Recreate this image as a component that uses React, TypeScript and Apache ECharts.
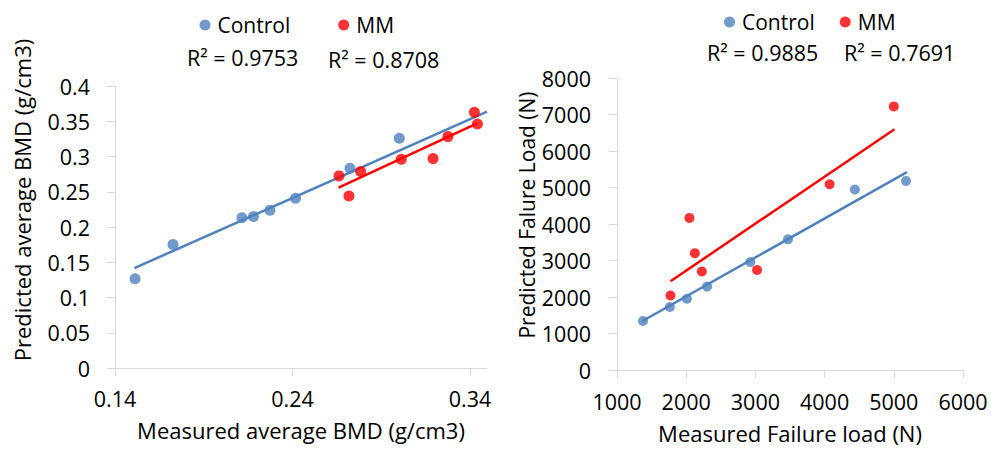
import React, { useEffect, useRef } from "react";
import * as echarts from "echarts";

// ---- Left chart: average BMD ----
const bmdControlMeasured = [0.1513, 0.1727, 0.2115, 0.218, 0.2273, 0.2417, 0.2724, 0.3002];
const bmdControlPredicted = [0.1265, 0.1751, 0.213, 0.2148, 0.2239, 0.2409, 0.2834, 0.3259];
const bmdMMMeasured = [0.2662, 0.2718, 0.2784, 0.3013, 0.3192, 0.3276, 0.3425, 0.3442];
const bmdMMPredicted = [0.2725, 0.2441, 0.2786, 0.2961, 0.297, 0.3282, 0.3627, 0.3462];
const bmdControlTrend = [[0.1509, 0.1417], [0.3496, 0.3636]];
const bmdMMTrend = [[0.266, 0.2559], [0.344, 0.3471]];
const bmdXTicks = [0.14, 0.24, 0.34];
const bmdR2 = ["R² = 0.9753", "R² = 0.8708"];
const bmdXTitle = "Measured average BMD (g/cm3)";
const bmdYTitle = "Predicted average BMD (g/cm3)";

// ---- Right chart: failure load ----
const loadControlMeasured = [1375, 1764, 2010, 2302, 2927, 3471, 4437, 5177];
const loadControlPredicted = [1345, 1725, 1953, 2286, 2956, 3580, 4944, 5180];
const loadMMMeasured = [1773, 2047, 2125, 2226, 3024, 4072, 5000];
const loadMMPredicted = [2042, 4166, 3200, 2701, 2739, 5088, 7222];
const loadControlTrend = [[1375, 1350], [5190, 5420]];
const loadMMTrend = [[1773, 2430], [5010, 6598]];
const loadR2 = ["R² = 0.9885", "R² = 0.7691"];
const loadXTitle = "Measured Failure load (N)";
const loadYTitle = "Predicted Falure Load (N)";

const seriesNames = ["Control", "MM"];
const BLUE = "#4F81BD";
const RED = "#FF0000";
const FONT = "Open Sans";
const AXIS_GRAY = "#D9D9D9";

const zip = (xs: number[], ys: number[]) => xs.map((x, i) => [x, ys[i]]);
const plain = (v: number) => String(v);

export default function App() {
  const ref = useRef<HTMLDivElement>(null);
  useEffect(() => {
    if (!ref.current) return;
    const chart = echarts.init(ref.current, undefined, { renderer: "svg" });
    const axisCommon = {
      axisLine: { show: true, lineStyle: { color: AXIS_GRAY, width: 1 } },
      axisTick: { show: true, length: 8, lineStyle: { color: AXIS_GRAY } },
      splitLine: { show: false },
      nameTextStyle: { fontFamily: FONT, fontSize: 22, color: "#000" },
    };
    const labelStyle = { fontFamily: FONT, fontSize: 21.5, color: "#000", formatter: plain };
    const textStyle = { fontFamily: FONT, fontSize: 21.5, fill: "#000" };
    const legendCommon = {
      data: seriesNames,
      icon: "circle",
      itemWidth: 15,
      itemHeight: 11,
      padding: 0,
      symbolKeepAspect: true,
      textStyle: { fontFamily: FONT, fontSize: 21, color: "#000" },
    };
    chart.setOption({
      animation: false,
      backgroundColor: "#fff",
      grid: [
        { left: 115, top: 86, right: 504, bottom: 81 },
        { left: 617, top: 78, right: 28, bottom: 76 },
      ],
      xAxis: [
        {
          ...axisCommon,
          gridIndex: 0,
          type: "value",
          min: 0.14,
          max: 0.3496,
          name: bmdXTitle,
          nameLocation: "middle",
          nameGap: 51,
          axisTick: { ...axisCommon.axisTick, customValues: bmdXTicks },
          axisLabel: { ...labelStyle, margin: 19, customValues: bmdXTicks },
        },
        {
          ...axisCommon,
          gridIndex: 1,
          type: "value",
          min: 1000,
          max: 6000,
          interval: 1000,
          name: loadXTitle,
          nameLocation: "middle",
          nameGap: 52,
          axisLabel: { ...labelStyle, margin: 20 },
        },
      ],
      yAxis: [
        {
          ...axisCommon,
          gridIndex: 0,
          type: "value",
          min: 0,
          max: 0.4,
          interval: 0.05,
          axisLabel: { ...labelStyle, margin: 25 },
        },
        {
          ...axisCommon,
          gridIndex: 1,
          type: "value",
          min: 0,
          max: 8000,
          interval: 1000,
          axisLabel: { ...labelStyle, margin: 26 },
        },
      ],
      legend: [
        { ...legendCommon, left: 199.5, top: 14.5, itemGap: 48 },
        { ...legendCommon, left: 724, top: 11.5, itemGap: 25 },
      ],
      series: [
        {
          name: seriesNames[0],
          type: "scatter",
          xAxisIndex: 0,
          yAxisIndex: 0,
          data: zip(bmdControlMeasured, bmdControlPredicted),
          symbolSize: 11,
          itemStyle: { color: BLUE },
          z: 3,
        },
        {
          name: seriesNames[1],
          type: "scatter",
          xAxisIndex: 0,
          yAxisIndex: 0,
          data: zip(bmdMMMeasured, bmdMMPredicted),
          symbolSize: 11,
          itemStyle: { color: RED },
          z: 3,
        },
        {
          name: "Control trend BMD",
          type: "line",
          xAxisIndex: 0,
          yAxisIndex: 0,
          data: bmdControlTrend,
          showSymbol: false,
          lineStyle: { color: BLUE, width: 2.5 },
          z: 2,
        },
        {
          name: "MM trend BMD",
          type: "line",
          xAxisIndex: 0,
          yAxisIndex: 0,
          data: bmdMMTrend,
          showSymbol: false,
          lineStyle: { color: RED, width: 2.5 },
          z: 2,
        },
        {
          name: seriesNames[0],
          type: "scatter",
          xAxisIndex: 1,
          yAxisIndex: 1,
          data: zip(loadControlMeasured, loadControlPredicted),
          symbolSize: 10,
          itemStyle: { color: BLUE },
          z: 3,
        },
        {
          name: seriesNames[1],
          type: "scatter",
          xAxisIndex: 1,
          yAxisIndex: 1,
          data: zip(loadMMMeasured, loadMMPredicted),
          symbolSize: 10,
          itemStyle: { color: RED },
          z: 3,
        },
        {
          name: "Control trend load",
          type: "line",
          xAxisIndex: 1,
          yAxisIndex: 1,
          data: loadControlTrend,
          showSymbol: false,
          lineStyle: { color: BLUE, width: 2.5 },
          z: 2,
        },
        {
          name: "MM trend load",
          type: "line",
          xAxisIndex: 1,
          yAxisIndex: 1,
          data: loadMMTrend,
          showSymbol: false,
          lineStyle: { color: RED, width: 2.5 },
          z: 2,
        },
      ],
      graphic: [
        { type: "text", left: 187, top: 46, style: { ...textStyle, text: bmdR2[0] } },
        { type: "text", left: 328, top: 48, style: { ...textStyle, text: bmdR2[1] } },
        { type: "text", left: 707, top: 41, style: { ...textStyle, text: loadR2[0] } },
        { type: "text", left: 844, top: 41, style: { ...textStyle, text: loadR2[1] } },
        {
          type: "text",
          x: 22,
          y: 200,
          rotation: Math.PI / 2,
          style: {
            text: bmdYTitle,
            fontFamily: FONT,
            fontSize: 22,
            fill: "#000",
            align: "center",
            verticalAlign: "middle",
          },
        },
        {
          type: "text",
          x: 527,
          y: 215,
          rotation: Math.PI / 2,
          style: {
            text: loadYTitle,
            fontFamily: FONT,
            fontSize: 21,
            fill: "#000",
            align: "center",
            verticalAlign: "middle",
          },
        },
      ],
    });
    return () => chart.dispose();
  }, []);
  return (
    <div
      ref={ref}
      style={{ position: "fixed", left: 0, top: 0, width: 991, height: 449, background: "#fff" }}
    />
  );
}
